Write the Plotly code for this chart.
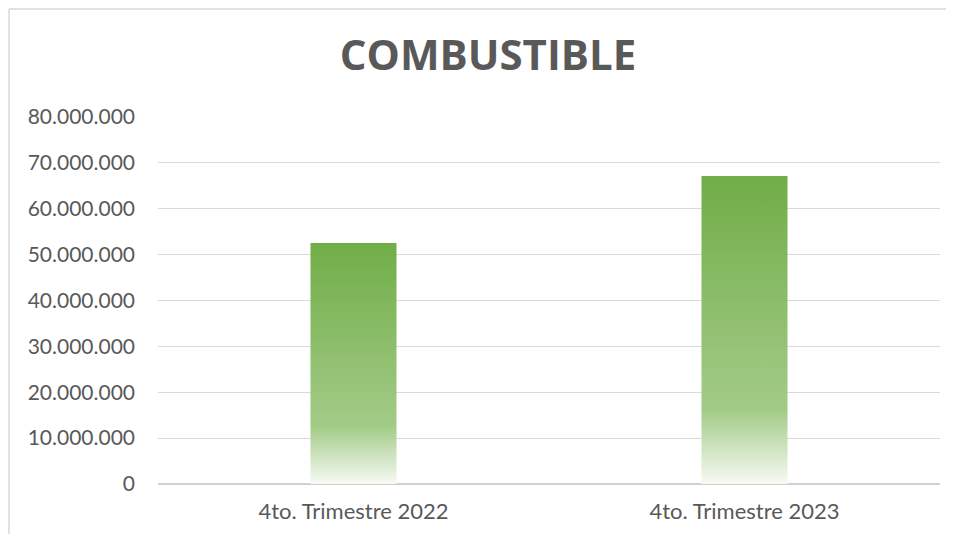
import plotly.graph_objects as go

categories = ["4to. Trimestre 2022", "4to. Trimestre 2023"]
values = [52_550_000, 67_150_000]
y_ticks = [0, 10_000_000, 20_000_000, 30_000_000, 40_000_000, 50_000_000, 60_000_000, 70_000_000, 80_000_000]

BAR_W = 0.22
gradient = [[0.0, "#F7FAF4"], [0.24, "#A3CB88"], [1.0, "#70AD47"]]

fig = go.Figure()
for i, (cat, v) in enumerate(zip(categories, values)):
    x0, x1 = i - BAR_W / 2, i + BAR_W / 2
    fig.add_trace(go.Scatter(
        x=[x0, x1, x1, x0, x0], y=[0, 0, v, v, 0],
        mode="lines", line=dict(width=0), fill="toself",
        fillgradient=dict(type="vertical", colorscale=gradient),
        name=cat, showlegend=False, hoverinfo="skip",
    ))

font = "Lato, 'Open Sans', sans-serif"
W, H = 938, 526
L, R, T, B = 150, 6, 109, 50
pw, ph = W - L - R, H - T - B
bx = (1 - L) / pw
by = (H - B - 1) / ph
border = dict(color="#D9D9D9", width=1.5)
fig.update_layout(
    width=W, height=H,
    margin=dict(l=L, r=R, t=T, b=B),
    paper_bgcolor="white", plot_bgcolor="white",
    separators=",.",
    title=dict(text="<b>COMBUSTIBLE</b>", x=480 / W, xanchor="center",
               y=(H - 47.5) / H, yanchor="middle",
               font=dict(family="'Open Sans', sans-serif", size=42, color="#595959")),
    xaxis=dict(range=[-0.5, 1.5], tickvals=[0, 1], ticktext=categories,
               showgrid=False, zeroline=False, showline=False, ticks="",
               tickfont=dict(family=font, size=22, color="#595959")),
    yaxis=dict(range=[0, 80_000_000], tickvals=y_ticks, tickformat=",d",
               showgrid=True, gridcolor="#D9D9D9", gridwidth=1,
               zeroline=True, zerolinecolor="#D0D0D0", zerolinewidth=1.5,
               showline=False, ticks="",
               tickfont=dict(family=font, size=21, color="#595959")),
    shapes=[
        dict(type="line", xref="paper", yref="paper", x0=bx, x1=1.02, y0=by, y1=by, line=border),
        dict(type="line", xref="paper", yref="paper", x0=bx, x1=bx, y0=-0.2, y1=by, line=border),
    ],
)
fig.update_yaxes(ticklabelstandoff=22)
fig.update_xaxes(ticklabelstandoff=12)
fig.write_html("out.html")
